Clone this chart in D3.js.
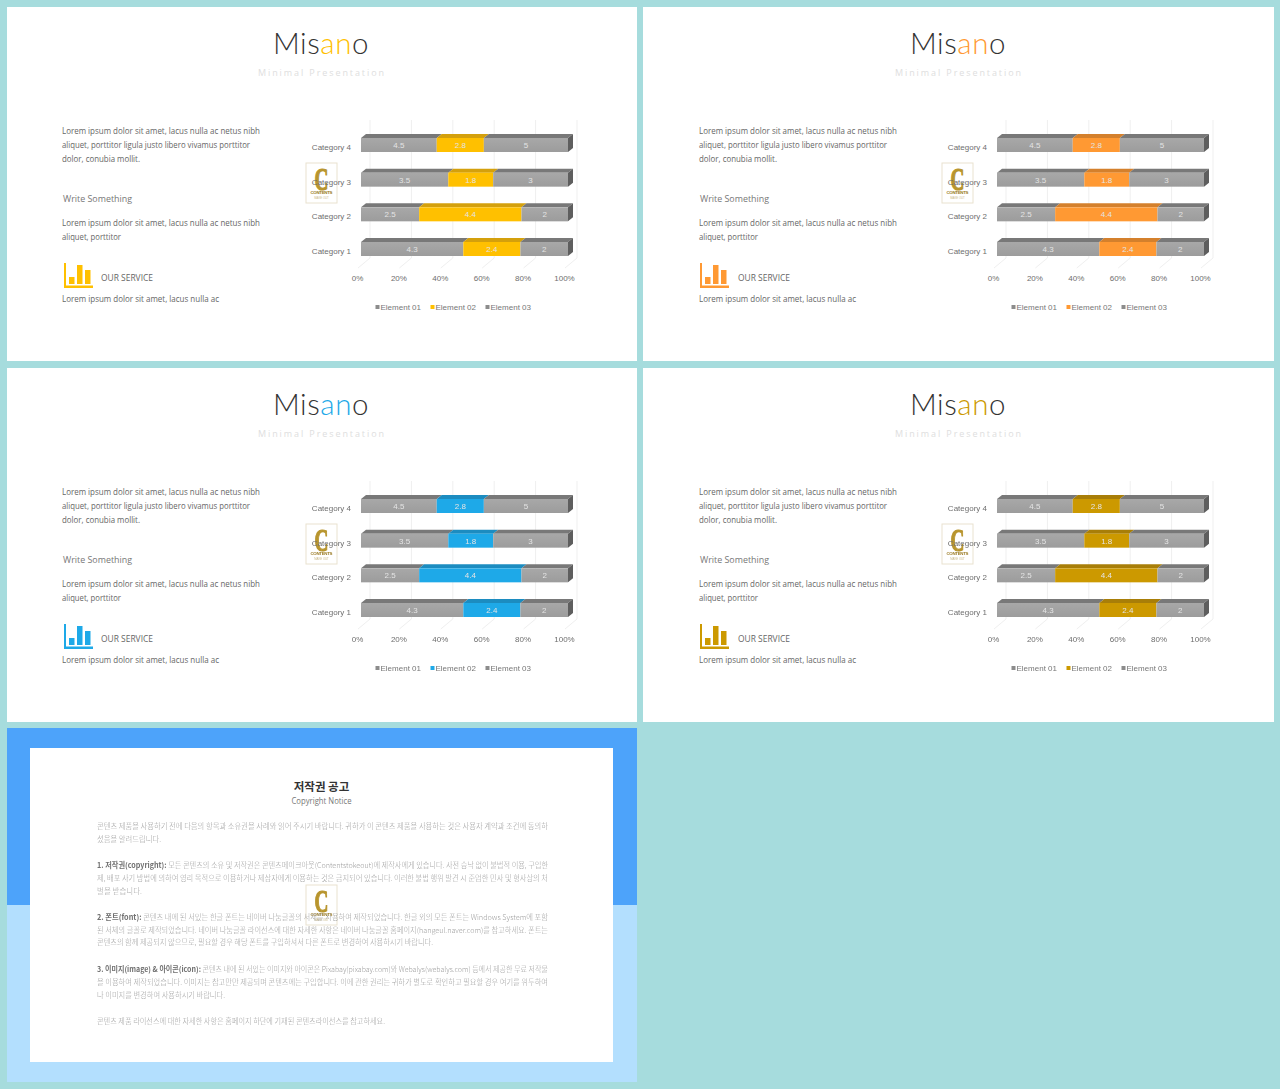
<!DOCTYPE html>
<html><head><meta charset="utf-8">
<script src="https://cdn.jsdelivr.net/npm/d3@7/dist/d3.min.js"></script>
<style>
html,body{margin:0;padding:0;background:#A6DCDD;}
svg{display:block;font-family:"Liberation Sans",sans-serif;filter:blur(0.35px);}
</style></head><body>
<svg id="c" width="1280" height="1089"></svg>
<script>
const categories = ["Category 1","Category 2","Category 3","Category 4"];
const element01 = [4.3,2.5,3.5,4.5];
const element02 = [2.4,4.4,1.8,2.8];
const element03 = [2,2,3,5];
const seriesNames = ["Element 01","Element 02","Element 03"];
const xTicks = [0,20,40,60,80,100];
const accents = ["#FFC000","#FF9933","#1EA9E8","#CC9900"];
const accentTops = ["#D4A00C","#D4802C","#1C8CC0","#A87E08"];
const para1 = ["Lorem ipsum dolor sit amet, lacus nulla ac netus nibh","aliquet, porttitor ligula justo libero vivamus porttitor","dolor, conubia mollit."];
const para2 = ["Lorem ipsum dolor sit amet, lacus nulla ac netus nibh","aliquet, porttitor"];
const para3 = "Lorem ipsum dolor sit amet, lacus nulla ac";
const noticeLines = [
 ["","콘텐츠 제품을 사용하기 전에 다음의 항목과 소유권을 사례와 읽어 주시기 바랍니다. 귀하가 이 콘텐츠 제품을 사용하는 것은 사용자 계약과 조건에 동의하",451],
 ["","셨음을 알려드립니다.",64],
 null,
 ["1. 저작권(copyright):"," 모든 콘텐츠의 소유 및 저작권은 콘텐츠메이크아웃(Contentstokeout)에 제작사에게 있습니다. 사전 승낙 없이 불법적 이용, 구입한",451],
 ["","제, 배포 사기 방법에 의하여 영리 목적으로 이용하거나 제삼자에게 이용하는 것은 금지되어 있습니다. 이러한 불법 행위 발견 시 준엄한 민사 및 형사상의 처",451],
 ["","벌을 받습니다.",45],
 null,
 ["2. 폰트(font):"," 콘텐츠 내에 된 서있는 한글 폰트는 네이버 나눔글꼴의 서체를 사용하여 제작되었습니다. 한글 외의 모든 폰트는 Windows System에 포함",451],
 ["","된 서체의 글꼴로 제작되었습니다. 네이버 나눔글꼴 라이선스에 대한 자세한 사항은 네이버 나눔글꼴 홈페이지(hangeul.naver.com)를 참고하세요. 폰트는",451],
 ["","콘텐츠의 함께 제공되지 않으므로, 필요할 경우 해당 폰트를 구입하셔서 다른 폰트로 변경하여 사용하시기 바랍니다.",336],
 null,
 ["3. 이미지(image) & 아이콘(icon):"," 콘텐츠 내에 된 서있는 이미지와 아이콘은 Pixabay(pixabay.com)와 Webalys(webalys.com) 등에서 제공한 무료 저작물",451],
 ["","을 이용하여 제작되었습니다. 이미지는 참고만만 제공되며 콘텐츠에는 구입합니다. 이에 관한 권리는 귀하가 별도로 확인하고 필요할 경우 여기를 위두하여",451],
 ["","나 이미지를 변경하여 사용하시기 바랍니다.",128],
 null,
 ["","콘텐츠 제품 라이선스에 대한 자세한 사항은 홈페이지 하단에 기재된 콘텐츠라이선스를 참고하세요.",288]
];

const svg = d3.select("#c");
const noticeY = [826,839,852,865,878,891,904,917,930,942,956,969,982,995,1008,1021];
const BODY='"Open Sans"';

function logo(g,x,y){
  const l=g.append("g").attr("transform",`translate(${x},${y})`);
  l.append("rect").attr("x",0.5).attr("y",0.5).attr("width",31).attr("height",40).attr("fill","#fff").attr("fill-opacity",0.2).attr("stroke","#E9E2CF").attr("stroke-width",1);
  l.append("text").attr("transform","translate(16,27) scale(.62,1)").attr("text-anchor","middle").attr("font-family","Liberation Serif").attr("font-weight",700).attr("font-size",31).attr("fill","#B8952E").attr("stroke","#B8952E").attr("stroke-width",1.2).text("C");
  l.append("text").attr("x",16).attr("y",31.5).attr("text-anchor","middle").attr("font-weight",700).attr("font-size",4.4).attr("fill","#9A7A22").attr("textLength",22).text("CONTENTS");
  l.append("text").attr("x",16).attr("y",36).attr("text-anchor","middle").attr("font-size",2.8).attr("fill","#C9B98A").text("MAKE OUT");
}

function slide(ox,oy,idx){
  const acc=accents[idx], accTop=accentTops[idx];
  const g=svg.append("g").attr("transform",`translate(${ox},${oy})`);
  const tdx=idx%2?1:0;
  g.append("rect").attr("x",7).attr("y",7).attr("width",idx%2?631:630).attr("height",354).attr("fill","#fff");

  const t=g.append("text").attr("x",321+tdx).attr("y",54).attr("text-anchor","middle").attr("font-family","Lato").attr("font-weight",300).attr("font-size",29.5).attr("letter-spacing",0.6).attr("fill","#333");
  t.append("tspan").text("Mis");
  t.append("tspan").attr("fill",acc).text("an");
  t.append("tspan").text("o");
  g.append("text").attr("x",321+tdx).attr("y",76).attr("text-anchor","middle").attr("font-family",BODY).attr("font-size",9).attr("fill","#DEDEDE").attr("textLength",126).text("Minimal  Presentation");

  const body=(s,y,len)=>g.append("text").attr("x",62+tdx).attr("y",y).attr("font-family",BODY).attr("font-size",9).attr("fill","#666").attr("textLength",len).attr("lengthAdjust","spacingAndGlyphs").text(s);
  const w1=[198,188,78];
  para1.forEach((s,i)=>body(s,134+14*i,w1[i]));
  g.append("text").attr("x",63+tdx).attr("y",201.5).attr("font-family",BODY).attr("font-size",9).attr("fill","#777").attr("textLength",69).attr("lengthAdjust","spacingAndGlyphs").text("Write  Something");
  const w2=[198,59];
  para2.forEach((s,i)=>body(s,226+14*i,w2[i]));
  body(para3,302,157);

  const ic=g.append("g").attr("fill",acc);
  ic.append("rect").attr("x",64).attr("y",263).attr("width",2).attr("height",25);
  ic.append("rect").attr("x",64).attr("y",285.5).attr("width",29).attr("height",2.5);
  ic.append("rect").attr("x",69).attr("y",277).attr("width",5.5).attr("height",7);
  ic.append("rect").attr("x",77).attr("y",265).attr("width",5.5).attr("height",19);
  ic.append("rect").attr("x",85).attr("y",270).attr("width",5.5).attr("height",14);
  g.append("text").attr("x",101+tdx).attr("y",281).attr("font-family",BODY).attr("font-size",9).attr("fill","#666").attr("textLength",52).attr("lengthAdjust","spacingAndGlyphs").text("OUR SERVICE");

  // chart
  const depthX=5, depthY=4, gridDX=12, gridDY=10;
  const x=d3.scaleLinear().domain([0,100]).range([361,568]);
  const xFloor=d3.scaleLinear().domain([0,100]).range([358,565]);
  const bh=14;
  const cy=d3.scalePoint().domain(categories).range([242,138]);

  const grid=g.append("g").attr("stroke","#EFEFEF").attr("fill","none");
  xTicks.forEach(v=>{
    const fx=xFloor(v);
    grid.append("path").attr("d",`M${fx},268L${fx+gridDX},${268-gridDY}V120`);
  });

  const rows=categories.map((c,i)=>{
    const vals=[element01[i],element02[i],element03[i]];
    const tot=d3.sum(vals);let acc0=0;
    return {c,segs:vals.map((v,k)=>{const a=acc0/tot*100;acc0+=v;return {v,k,a,b:acc0/tot*100};})};
  });
  const defs=g.append("defs");
  const grad=(id,c1,c2)=>{const lg=defs.append("linearGradient").attr("id",id).attr("x1",0).attr("x2",0).attr("y1",0).attr("y2",1);lg.append("stop").attr("offset",0).attr("stop-color",c1);lg.append("stop").attr("offset",1).attr("stop-color",c2);};
  grad("g"+idx+"a","#A8A8A8","#9C9C9C");
  grad("g"+idx+"b",acc,acc);
  logo(g,305.5,162.5);
  rows.forEach(r=>{
    const top=cy(r.c);
    r.segs.forEach(s=>{
      const x0=x(s.a),x1=x(s.b);
      g.append("path").attr("d",`M${x0},${top}L${x0+depthX},${top-depthY}H${x1+depthX}L${x1},${top}Z`).attr("fill",s.k===1?accTop:"#787878");
      g.append("rect").attr("x",x0).attr("y",top).attr("width",x1-x0).attr("height",bh).attr("fill",`url(#g${idx}${s.k===1?"b":"a"})`);
      g.append("text").attr("x",(x0+x1)/2).attr("y",top+10).attr("text-anchor","middle").attr("font-size",8).attr("fill","#E4E4E4").text(s.v);
    });
    const xe=x(100);
    g.append("path").attr("d",`M${xe},${top}L${xe+depthX},${top-depthY}V${top+bh-depthY}L${xe},${top+bh}Z`).attr("fill","#5E5E5E");
    g.append("text").attr("x",351).attr("y",top+12).attr("text-anchor","end").attr("font-size",8).attr("fill","#6E6E6E").text(r.c);
  });

  const axis=g.append("g").attr("transform","translate(-1,269)").call(d3.axisBottom(xFloor).tickValues(xTicks).tickFormat(d=>d+"%").tickSize(0).tickPadding(6));
  axis.select(".domain").remove();
  axis.selectAll("text").attr("font-size",8).attr("font-family","Liberation Sans").attr("fill","#6E6E6E");

  const legX=[375,430,485];
  seriesNames.forEach((n,i)=>{
    g.append("rect").attr("x",legX[i]+0.5).attr("y",305).attr("width",4).attr("height",4).attr("fill",i===1?acc:"#8C8C8C");
    g.append("text").attr("x",legX[i]+5.5).attr("y",310).attr("font-size",8).attr("fill","#777").text(n);
  });
}
const offX=[0,636,0,636], offY=[0,0,361,361];
accents.forEach((_,i)=>slide(offX[i],offY[i],i));

// notice slide
svg.append("rect").attr("x",7).attr("y",728).attr("width",630).attr("height",177).attr("fill","#4DA3FA");
svg.append("rect").attr("x",7).attr("y",905).attr("width",630).attr("height",177).attr("fill","#B3DFFE");
svg.append("rect").attr("x",30).attr("y",748).attr("width",583).attr("height",314).attr("fill","#fff");
svg.append("text").attr("x",321.5).attr("y",791).attr("text-anchor","middle").attr("font-family","Noto Sans CJK KR").attr("font-size",11.5).attr("font-weight",700).attr("fill","#333").text("저작권 공고");
svg.append("text").attr("x",321.5).attr("y",804).attr("text-anchor","middle").attr("font-family",BODY).attr("font-size",8.5).attr("fill","#777").attr("textLength",60).attr("lengthAdjust","spacingAndGlyphs").text("Copyright Notice");
logo(svg,305.5,884.5);
noticeLines.forEach((l,i)=>{
  if(!l) return;
  const t=svg.append("text").attr("x",97).attr("y",noticeY[i]+3).attr("font-family","Noto Sans CJK KR").attr("font-weight",300).attr("font-size",7.5).attr("fill","#9E9E9E").attr("textLength",l[2]).attr("lengthAdjust","spacingAndGlyphs");
  if(l[0]) t.append("tspan").attr("font-weight",700).attr("fill","#707070").text(l[0]);
  t.append("tspan").text(l[1]);
});
</script>
</body></html>
